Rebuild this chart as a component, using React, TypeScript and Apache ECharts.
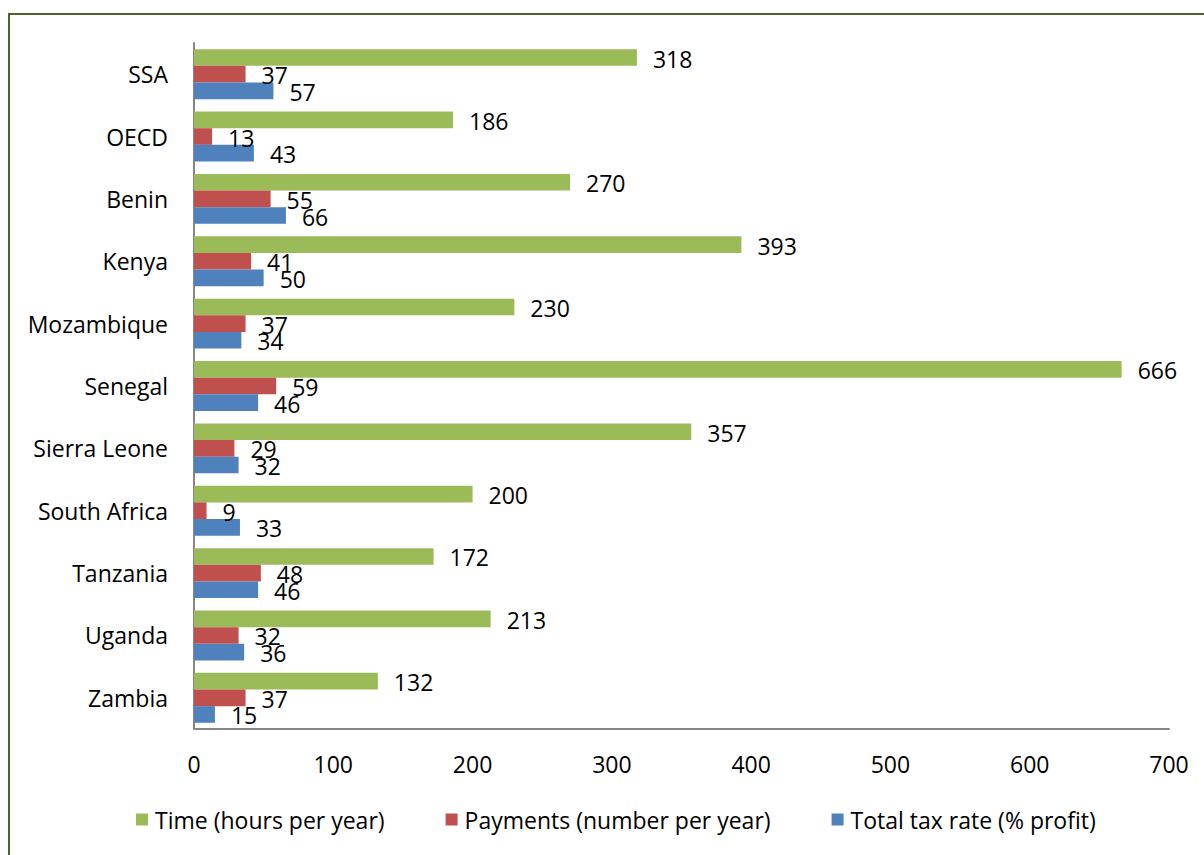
import React, { useEffect, useRef } from "react";
import * as echarts from "echarts";

const categories = ["SSA", "OECD", "Benin", "Kenya", "Mozambique", "Senegal", "Sierra Leone", "South Africa", "Tanzania", "Uganda", "Zambia"];
const timeHours = [318, 186, 270, 393, 230, 666, 357, 200, 172, 213, 132];
const payments = [37, 13, 55, 41, 37, 59, 29, 9, 48, 32, 37];
const taxRate = [57, 43, 66, 50, 34, 46, 32, 33, 46, 36, 15];
const xTicks = { min: 0, max: 700, interval: 100 };

const FONT = "Open Sans";
const FS = 23;

export default function App() {
  const ref = useRef<HTMLDivElement>(null);
  useEffect(() => {
    if (!ref.current) return;
    const chart = echarts.init(ref.current, null, { renderer: "svg" });
    const label = {
      show: true,
      position: "right",
      distance: 16,
      color: "#000",
      fontSize: FS,
      fontFamily: FONT,
      offset: [0, 1],
    };
    chart.setOption({
      animation: false,
      backgroundColor: "#fff",
      textStyle: { fontFamily: FONT },
      grid: { left: 194, right: 35, top: 43, bottom: 126 },
      legend: {
        bottom: 24,
        left: 136,
        padding: 0,
        itemWidth: 12,
        itemHeight: 12,
        itemGap: 61,
        icon: "rect",
        textStyle: { fontSize: FS, color: "#000", fontFamily: FONT, padding: [0, 0, 0, 2] },
        data: ["Time (hours per year)", "Payments (number per year)", "Total tax rate (% profit)"],
      },
      xAxis: {
        type: "value",
        min: xTicks.min,
        max: xTicks.max,
        interval: xTicks.interval,
        axisLine: { show: true, lineStyle: { color: "#868686", width: 2 } },
        axisTick: { show: false },
        splitLine: { show: false },
        axisLabel: { fontSize: FS, color: "#000", fontFamily: FONT, margin: 23 },
      },
      yAxis: {
        type: "category",
        inverse: true,
        data: categories,
        axisLine: { show: true, lineStyle: { color: "#868686", width: 2 } },
        axisTick: { show: false },
        axisLabel: { fontSize: FS, color: "#000", fontFamily: FONT, margin: 26 },
      },
      series: [
        {
          name: "Time (hours per year)",
          type: "bar",
          data: timeHours,
          itemStyle: { color: "#9BBB59" },
          barGap: "0%",
          barCategoryGap: "20%",
          label,
        },
        {
          name: "Payments (number per year)",
          type: "bar",
          data: payments,
          itemStyle: { color: "#C0504D" },
          barGap: "0%",
          barCategoryGap: "20%",
          label,
        },
        {
          name: "Total tax rate (% profit)",
          type: "bar",
          data: taxRate,
          itemStyle: { color: "#4F81BD" },
          barGap: "0%",
          barCategoryGap: "20%",
          label,
        },
      ],
    });
    return () => chart.dispose();
  }, []);
  return (
    <div style={{ position: "fixed", left: 0, top: 0, width: 1204, height: 855, background: "#fff", overflow: "hidden" }}>
      <div ref={ref} style={{ position: "absolute", left: 0, top: 0, width: 1204, height: 855 }} />
      <div
        style={{
          position: "absolute",
          left: 8,
          top: 13,
          width: 1300,
          height: 1000,
          border: "2px solid #4F6228",
          pointerEvents: "none",
        }}
      />
    </div>
  );
}
